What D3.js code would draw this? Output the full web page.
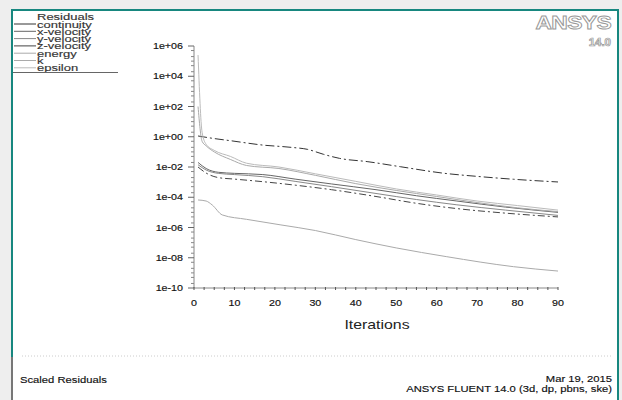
<!DOCTYPE html>
<html>
<head>
<meta charset="utf-8">
<script src="https://cdn.jsdelivr.net/npm/d3@7/dist/d3.min.js"></script>
<style>
  body { margin: 0; background: #eeeeee; }
  svg { display: block; font-family: Arial, "Liberation Sans", sans-serif; }
</style>
</head>
<body>
<svg id="chart" width="622" height="400"></svg>
<script>
// residual history (log10 of residual)
var seriesNames = ["continuity", "x-velocity", "y-velocity", "z-velocity", "energy", "k", "epsilon"];
var continuityIt = [1, 5, 9, 17, 24, 28, 32, 36, 43, 51, 62, 70, 79, 90];
var continuityLog = [0.05, -0.12, -0.26, -0.55, -0.7, -0.83, -1.16, -1.43, -1.65, -1.98, -2.42, -2.62, -2.81, -2.99];
var velIt = [1, 3, 6, 10, 17, 25, 34, 45, 55, 65, 77, 90];
var xVelLog = [-1.7, -2.1, -2.35, -2.42, -2.5, -2.8, -3.12, -3.5, -3.9, -4.25, -4.65, -5.0];
var yVelLog = [-1.85, -2.2, -2.42, -2.5, -2.64, -2.95, -3.3, -3.75, -4.15, -4.5, -4.85, -5.2];
var zVelLog = [-2.0, -2.4, -2.7, -2.8, -2.97, -3.2, -3.5, -3.95, -4.4, -4.75, -5.05, -5.3];
var energyIt = [1, 3, 4.5, 7, 13, 21.5, 30, 40, 50, 62.5, 79, 90];
var energyLog = [-4.18, -4.25, -4.51, -5.17, -5.46, -5.83, -6.2, -6.8, -7.35, -7.93, -8.59, -8.88];
var turbIt = [1, 2, 3, 5, 9, 13, 21, 30, 40, 50, 60, 70, 80, 90];
var kLog = [2.0, -0.3, -0.6, -1.0, -1.5, -1.9, -2.1, -2.55, -3.1, -3.55, -3.95, -4.35, -4.7, -4.95];
var epsLog = [5.4, 0.3, -0.5, -0.9, -1.3, -1.75, -2.0, -2.45, -2.95, -3.45, -3.85, -4.25, -4.55, -4.85];
var xTicks = [0, 10, 20, 30, 40, 50, 60, 70, 80, 90];
var yTickExps = [6, 4, 2, 0, -2, -4, -6, -8, -10];
var yTickLabels = ["1e+06", "1e+04", "1e+02", "1e+00", "1e-02", "1e-04", "1e-06", "1e-08", "1e-10"];

var svg = d3.select("#chart");

// the picture is stretched sideways, so text gets a horizontal scale
function addText(parent, px, py, str, size, anchor, sx, sy) {
  return parent.append("text")
      .attr("transform", "translate(" + px + "," + py + ") scale(" + sx + "," + (sy || 1) + ")")
      .attr("text-anchor", anchor || "start")
      .attr("font-size", size)
      .attr("fill", "#111")
      .attr("stroke", "#111").attr("stroke-width", 0.15)
      .text(str);
}

// frame
svg.append("rect").attr("x", 12).attr("y", 10).attr("width", 606).attr("height", 400)
    .attr("fill", "#ffffff").attr("stroke", "#17877f").attr("stroke-width", 2);
svg.append("line").attr("x1", 12).attr("x2", 12).attr("y1", 357).attr("y2", 400)
    .attr("stroke", "#777").attr("stroke-width", 2);

var x = d3.scaleLinear().domain([0, 90]).range([194, 558]);
var y = d3.scaleLinear().domain([6, -10]).range([46, 288]);

// axes
var g = svg.append("g");
g.append("line").attr("x1", x(0)).attr("x2", x(0)).attr("y1", y(6)).attr("y2", y(-10))
    .attr("stroke", "#888");
g.append("line").attr("x1", x(0)).attr("x2", x(90)).attr("y1", y(-10)).attr("y2", y(-10))
    .attr("stroke", "#888");

// y ticks: majors every 2 decades, minor log subdivisions
var minor = [];
for (var e = 6; e > -10; e--) {
  [0.7, 0.3].forEach(function(f) { minor.push(e - 1 + f); });
  if (e % 2 != 0) minor.push(e);
}
g.selectAll(".ymin").data(minor).enter().append("line")
    .attr("x1", x(0) - 3).attr("x2", x(0))
    .attr("y1", function(d) { return y(d); }).attr("y2", function(d) { return y(d); })
    .attr("stroke", "#888");
g.selectAll(".ymaj").data(yTickExps).enter().append("line")
    .attr("x1", x(0) - 6).attr("x2", x(0))
    .attr("y1", function(d) { return y(d); }).attr("y2", function(d) { return y(d); })
    .attr("stroke", "#666");
yTickExps.forEach(function(d, i) {
  addText(g, 183, y(d) + 3, yTickLabels[i], 8.5, "end", 1.26);
});

// x ticks
g.selectAll(".xmin").data(d3.range(0, 90.1, 2.5)).enter().append("line")
    .attr("x1", function(d) { return x(d); }).attr("x2", function(d) { return x(d); })
    .attr("y1", y(-10) - 1).attr("y2", y(-10) + 2)
    .attr("stroke", "#555");
xTicks.forEach(function(d) {
  addText(g, x(d), 306, d, 8.5, "middle", 1.26);
});
addText(g, 377, 329, "Iterations", 13, "middle", 1.22)
    .attr("fill", "#222").attr("stroke-width", 0);

// series
var series = [
  {its: continuityIt, vals: continuityLog, color: "#333", dash: "9,3,2,3"},
  {its: velIt, vals: xVelLog, color: "#666", dash: null},
  {its: velIt, vals: yVelLog, color: "#888", dash: null},
  {its: velIt, vals: zVelLog, color: "#444", dash: "7,3,2,3"},
  {its: energyIt, vals: energyLog, color: "#aaa", dash: null},
  {its: turbIt, vals: kLog, color: "#aaa", dash: null},
  {its: turbIt, vals: epsLog, color: "#bbb", dash: null}
];
var line = d3.line()
    .x(function(d) { return x(d[0]); })
    .y(function(d) { return y(d[1]); })
    .curve(d3.curveMonotoneX);
svg.append("g").selectAll("path").data(series).enter().append("path")
    .attr("d", function(s) { return line(d3.zip(s.its, s.vals)); })
    .attr("fill", "none")
    .attr("stroke", function(s) { return s.color; })
    .attr("stroke-width", 1)
    .attr("stroke-dasharray", function(s) { return s.dash; });

// legend (entries sit tight, like the reference)
var leg = svg.append("g");
addText(leg, 37, 20, "Residuals", 10, "start", 1.3, 0.85).attr("fill", "#333").attr("stroke", "#333");
leg.selectAll(".ll").data(seriesNames).enter().append("line")
    .attr("x1", 14).attr("x2", 36)
    .attr("y1", function(d, i) { return 24 + i * 7.3; }).attr("y2", function(d, i) { return 24 + i * 7.3; })
    .attr("stroke", function(d, i) { return series[i].color; });
seriesNames.forEach(function(d, i) {
  addText(leg, 37, 27.5 + i * 7.3, d, 10, "start", 1.3, 0.85).attr("fill", "#333").attr("stroke", "#333");
});
leg.append("line").attr("x1", 13).attr("x2", 118).attr("y1", 72.5).attr("y2", 72.5).attr("stroke", "#666");

// logo
svg.append("text").attr("transform", "translate(611,29) scale(1.2,1)").attr("text-anchor", "end")
    .attr("font-size", 19).attr("font-weight", "bold").attr("fill", "#fff")
    .attr("stroke", "#999").attr("stroke-width", 0.9).attr("letter-spacing", -0.5).text("ANSYS");
svg.append("text").attr("transform", "translate(611,46) scale(1.15,1)").attr("text-anchor", "end")
    .attr("font-size", 10).attr("font-weight", "bold").attr("fill", "#fff")
    .attr("stroke", "#999").attr("stroke-width", 0.7).text("14.0");

// footer
svg.append("line").attr("x1", 22).attr("x2", 612).attr("y1", 356).attr("y2", 356)
    .attr("stroke", "#ccc").attr("stroke-dasharray", "1,2");
addText(svg, 20, 383, "Scaled Residuals", 9, "start", 1.25);
addText(svg, 612, 382, "Mar 19, 2015", 9, "end", 1.25);
addText(svg, 612, 392, "ANSYS FLUENT 14.0 (3d, dp, pbns, ske)", 9, "end", 1.25);
</script>
</body>
</html>
